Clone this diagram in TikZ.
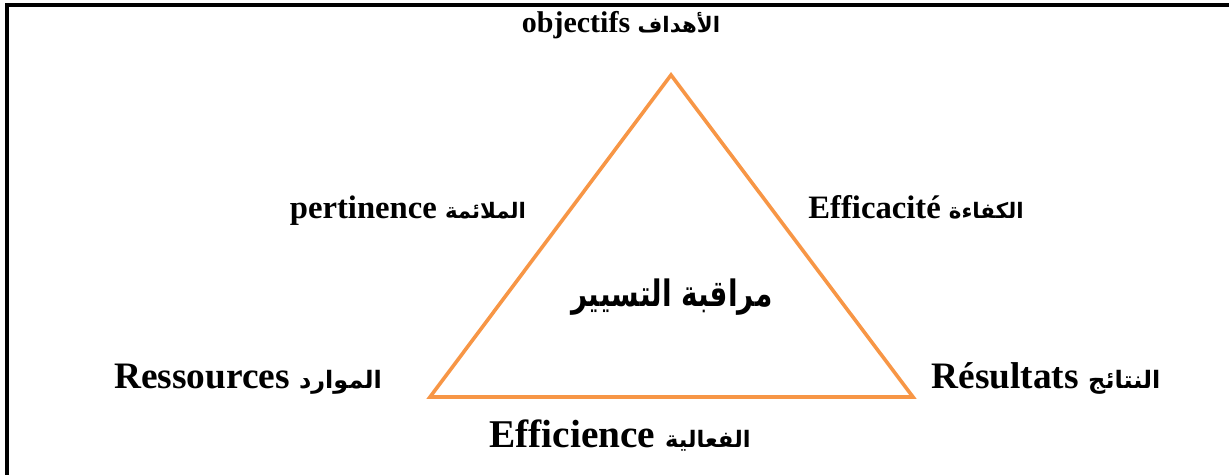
\documentclass[tikz,border=0pt]{standalone}
\usepackage{fontspec}
\setmainfont{Liberation Serif}
\newfontfamily\arabicfont[Script=Arabic]{DejaVu Sans}
\TeXXeTstate=1
\usepackage{graphicx}
\usepackage{xcolor}
\usepackage{tikz}
\definecolor{triorange}{HTML}{F79646}
\newcommand{\arw}[1]{{\arabicfont\bfseries\beginR #1\endR}}
\tikzset{
  triline/.style={draw=triorange, line width=2.7pt},
  frameline/.style={draw=black, line width=2.3pt},
  sidelbl/.style={anchor=base, inner sep=0pt, font=\bfseries\fontsize{24.5}{28}\selectfont},
  cornerlbl/.style={anchor=base, inner sep=0pt, font=\bfseries\fontsize{28}{32}\selectfont},
}

\begin{document}
\begin{tikzpicture}[x=0.75pt,y=-0.75pt]
\useasboundingbox (0,0) rectangle (1229,475);
\draw[frameline] (7,476) -- (7,5) -- (1230,5);
\coordinate (apex) at (671,75);
\coordinate (lcorner) at (430,397);
\coordinate (rcorner) at (913,397);
\draw[triline] (apex) -- (rcorner) -- (lcorner) -- cycle;
\node[sidelbl, font=\bfseries\fontsize{22.5}{26}\selectfont] (objectifs) at (621,32)
  {objectifs {\fontsize{16}{20}\selectfont\arw{الأهداف}}};
\node[sidelbl] (pertinence) at (408,218)
  {pertinence {\fontsize{16}{20}\selectfont\arw{الملائمة}}};
\node[sidelbl] (efficacite) at (916,218)
  {Efficacité {\fontsize{16}{20}\selectfont\arw{الكفاءة}}};
\node[anchor=base, inner sep=0pt] (controle) at (672,306)
  {\scalebox{1}[1.3]{\fontsize{21}{25}\selectfont\arw{مراقبة التسيير}}};
\node[cornerlbl] (ressources) at (248,388)
  {Ressources {\fontsize{18}{22}\selectfont\arw{الموارد}}};
\node[cornerlbl] (resultats) at (1046,388)
  {Résultats {\fontsize{18}{22}\selectfont\arw{النتائج}}};
\node[cornerlbl, font=\bfseries\fontsize{29.5}{33}\selectfont] (efficience) at (620,447)
  {Efficience {\fontsize{17}{21}\selectfont\arw{الفعالية}}};
\end{tikzpicture}
\end{document}
